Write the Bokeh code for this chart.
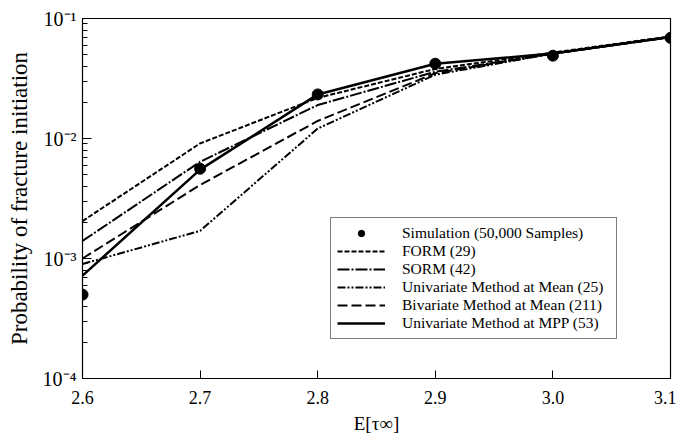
from bokeh.plotting import figure
from bokeh.models import Legend, LegendItem, PrintfTickFormatter, FixedTicker
from bokeh.embed import file_html
from bokeh.resources import INLINE

x_vals = [2.6, 2.7, 2.8, 2.9, 3.0, 3.1]
simulation = [5.0e-4, 5.6e-3, 2.33e-2, 4.2e-2, 4.9e-2, 6.9e-2]
form = [2.05e-3, 9.1e-3, 2.18e-2, 3.8e-2, 5.2e-2, 7.1e-2]
sorm = [1.4e-3, 6.4e-3, 1.9e-2, 3.6e-2, 5.1e-2, 7.0e-2]
univ_mean = [9.0e-4, 1.7e-3, 1.21e-2, 3.4e-2, 5.1e-2, 7.0e-2]
biv_mean = [1.0e-3, 4.1e-3, 1.4e-2, 3.5e-2, 5.1e-2, 7.0e-2]
univ_mpp = [7.2e-4, 5.5e-3, 2.33e-2, 4.2e-2, 5.1e-2, 7.0e-2]

labels = ["Simulation (50,000 Samples)", "FORM (29)", "SORM (42)",
          "Univariate Method at Mean (25)", "Bivariate Method at Mean (211)",
          "Univariate Method at MPP (53)"]

FONT = "Liberation Serif"

p = figure(frame_width=588, frame_height=360, y_axis_type="log",
           x_range=(2.6, 3.1), y_range=(1e-4, 1e-1),
           output_backend="svg", toolbar_location=None,
           min_border_left=82, min_border_top=18, min_border_right=6,
           min_border_bottom=50)
p.background_fill_color = "white"
p.border_fill_color = "white"
p.outline_line_color = "black"
p.outline_line_width = 1.2
p.xgrid.visible = False
p.ygrid.visible = False

r_form = p.line(x_vals, form, line_color="black", line_width=2, line_dash="5 2")
r_sorm = p.line(x_vals, sorm, line_color="black", line_width=2, line_dash="12 2 2 2")
r_um = p.line(x_vals, univ_mean, line_color="black", line_width=2, line_dash="8 2 2 2 2 2")
r_bm = p.line(x_vals, biv_mean, line_color="black", line_width=2, line_dash="10 4")
r_mpp = p.line(x_vals, univ_mpp, line_color="black", line_width=2.5)
r_sim = p.scatter(x_vals, simulation, size=11, fill_color="black", line_color="black")

xa = p.xaxis[0]
xa.ticker = FixedTicker(ticks=x_vals)
xa.formatter = PrintfTickFormatter(format="%.1f")
xa.major_tick_in = 8
xa.major_tick_out = 0
xa.minor_tick_in = 0
xa.minor_tick_out = 0
xa.axis_line_color = "black"
xa.major_tick_line_color = "black"
xa.major_label_text_color = "black"
xa.major_label_text_font = FONT
xa.major_label_text_font_size = "18px"
xa.major_label_standoff = 12
xa.axis_label = "E[τ∞]"
xa.axis_label_text_color = "black"
xa.axis_label_text_font = FONT
xa.axis_label_text_font_size = "19px"
xa.axis_label_text_font_style = "normal"
xa.axis_label_standoff = 6

ya = p.yaxis[0]
ya.ticker = FixedTicker(ticks=[1e-4, 1e-3, 1e-2, 1e-1],
                        minor_ticks=[m * 10.0 ** e for e in (-4, -3, -2) for m in range(2, 10)])
ya.major_label_overrides = {1e-4: "10⁻⁴", 1e-3: "10⁻³", 1e-2: "10⁻²", 1e-1: "10⁻¹"}
ya.major_tick_in = 9
ya.major_tick_out = 0
ya.minor_tick_in = 5
ya.minor_tick_out = 0
ya.axis_line_color = "black"
ya.major_tick_line_color = "black"
ya.minor_tick_line_color = "black"
ya.major_label_text_color = "black"
ya.major_label_text_font = FONT
ya.major_label_text_font_size = "20px"
ya.major_label_standoff = 6
ya.axis_label = "Probability of fracture initiation"
ya.axis_label_text_color = "black"
ya.axis_label_text_font = FONT
ya.axis_label_text_font_size = "23px"
ya.axis_label_text_font_style = "normal"
ya.axis_label_standoff = 8

legend = Legend(items=[
    LegendItem(label=labels[0], renderers=[r_sim]),
    LegendItem(label=labels[1], renderers=[r_form]),
    LegendItem(label=labels[2], renderers=[r_sorm]),
    LegendItem(label=labels[3], renderers=[r_um]),
    LegendItem(label=labels[4], renderers=[r_bm]),
    LegendItem(label=labels[5], renderers=[r_mpp]),
], location=(248, 39))
legend.margin = 0
legend.padding = 6
legend.spacing = 0
legend.label_height = 16
legend.glyph_height = 16
legend.glyph_width = 48
legend.label_standoff = 17
legend.label_width = 208
legend.label_text_font = FONT
legend.label_text_font_size = "15.5px"
legend.label_text_color = "black"
legend.border_line_color = "black"
legend.border_line_width = 1
legend.background_fill_alpha = 1
p.add_layout(legend, "center")

open("out.html", "w").write(file_html(p, INLINE))
